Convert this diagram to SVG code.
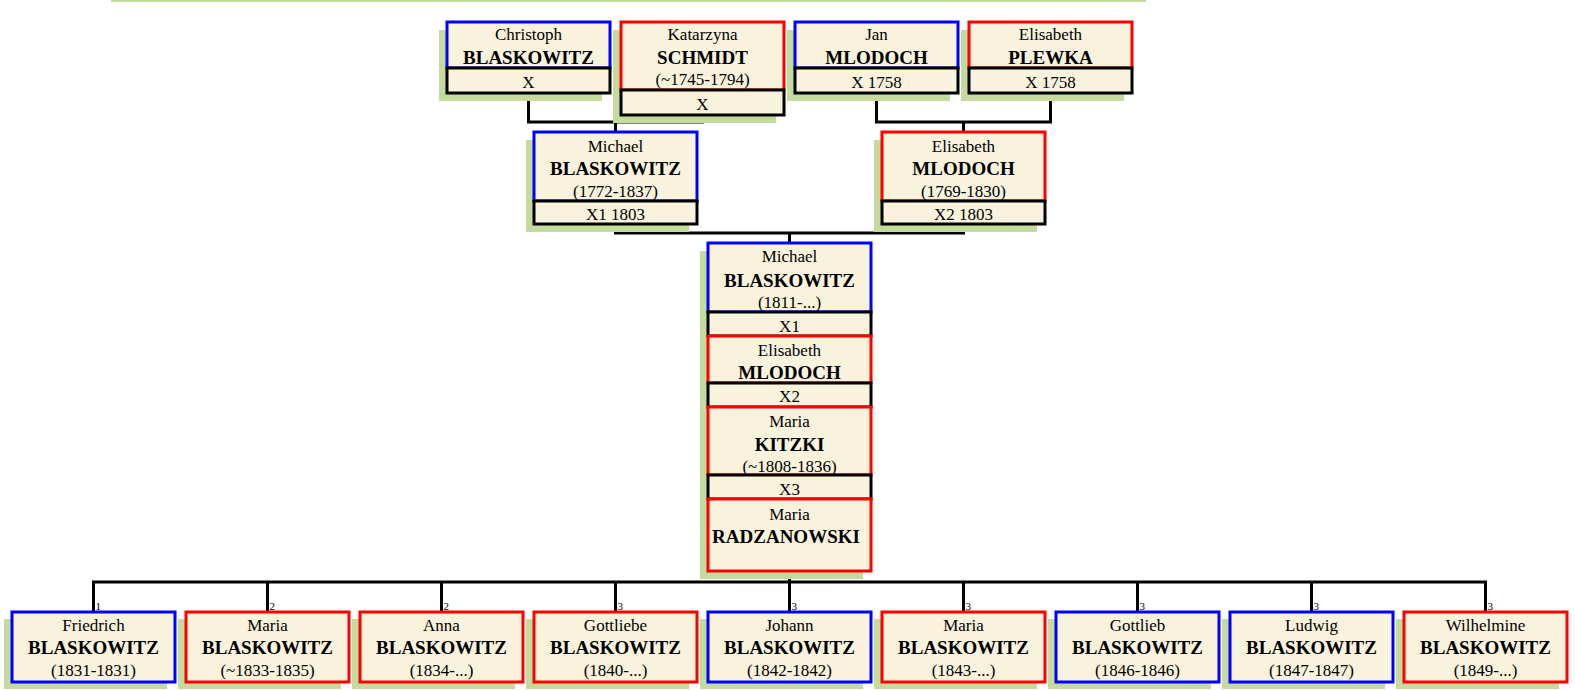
<svg xmlns="http://www.w3.org/2000/svg" width="1575" height="690" viewBox="0 0 1575 690">
<style>
.sh{fill:#c3db9c}
.m{fill:#f9f3dd;stroke:#0000ff;stroke-width:3}
.f{fill:#f9f3dd;stroke:#ff0000;stroke-width:3}
.x{fill:#f9f3dd;stroke:#000;stroke-width:3}
text{font-family:"Liberation Serif","Times New Roman",serif;text-anchor:middle;fill:#000}
.fn{font-size:17px}
.sn{font-size:19px;font-weight:bold}
.lb{font-size:11px;text-anchor:start}
.c{stroke:#000;stroke-width:3;fill:none}
</style>
<rect x="111" y="0" width="1035" height="2" fill="#c3db9c"/>

<g id="connectors">
<path class="c" d="M528.5,93 V122 H702.5 V115 M615.5,122 V132"/>
<path class="c" d="M876.5,93 V122 H1050.5 V93 M963.5,122 V132"/>
<path class="c" d="M615.5,224 V233 H963.5 V224 M789.5,233 V243"/>
<path class="c" d="M789.5,571 V582 M93.5,612 V582 H1485.5 V612 M267.5,582 V612 M441.5,582 V612 M615.5,582 V612 M789.5,582 V612 M963.5,582 V612 M1137.5,582 V612 M1311.5,582 V612"/>
<text class="lb" x="95.5" y="610">1</text>
<text class="lb" x="269.5" y="610">2</text>
<text class="lb" x="443.5" y="610">2</text>
<text class="lb" x="617.5" y="610">3</text>
<text class="lb" x="791.5" y="610">3</text>
<text class="lb" x="965.5" y="610">3</text>
<text class="lb" x="1139.5" y="610">3</text>
<text class="lb" x="1313.5" y="610">3</text>
<text class="lb" x="1487.5" y="610">3</text>
</g>

<g id="christoph-blaskowitz">
<rect class="sh" x="439" y="30" width="163" height="71"/>
<rect class="m" x="447" y="22" width="163" height="46"/>
<rect class="x" x="447" y="68" width="163" height="25"/>
<text class="fn" x="528.5" y="40">Christoph</text>
<text class="sn" x="528.5" y="64">BLASKOWITZ</text>
<text class="fn" x="528.5" y="88">X</text>
</g>
<g id="katarzyna-schmidt">
<rect class="sh" x="613" y="30" width="163" height="93"/>
<rect class="f" x="621" y="22" width="163" height="68"/>
<rect class="x" x="621" y="90" width="163" height="25"/>
<text class="fn" x="702.5" y="40">Katarzyna</text>
<text class="sn" x="702.5" y="64">SCHMIDT</text>
<text class="fn" x="702.5" y="85">(~1745-1794)</text>
<text class="fn" x="702.5" y="110">X</text>
</g>
<g id="jan-mlodoch">
<rect class="sh" x="787" y="30" width="163" height="71"/>
<rect class="m" x="795" y="22" width="163" height="46"/>
<rect class="x" x="795" y="68" width="163" height="25"/>
<text class="fn" x="876.5" y="40">Jan</text>
<text class="sn" x="876.5" y="64">MLODOCH</text>
<text class="fn" x="876.5" y="88">X 1758</text>
</g>
<g id="elisabeth-plewka">
<rect class="sh" x="961" y="30" width="163" height="71"/>
<rect class="f" x="969" y="22" width="163" height="46"/>
<rect class="x" x="969" y="68" width="163" height="25"/>
<text class="fn" x="1050.5" y="40">Elisabeth</text>
<text class="sn" x="1050.5" y="64">PLEWKA</text>
<text class="fn" x="1050.5" y="88">X 1758</text>
</g>

<g id="michael-blaskowitz-1772">
<rect class="sh" x="526" y="140" width="163" height="92"/>
<rect class="m" x="534" y="132" width="163" height="69"/>
<rect class="x" x="534" y="201" width="163" height="23"/>
<text class="fn" x="615.5" y="152">Michael</text>
<text class="sn" x="615.5" y="175">BLASKOWITZ</text>
<text class="fn" x="615.5" y="197">(1772-1837)</text>
<text class="fn" x="615.5" y="220">X1 1803</text>
</g>
<g id="elisabeth-mlodoch-1769">
<rect class="sh" x="874" y="140" width="163" height="92"/>
<rect class="f" x="882" y="132" width="163" height="69"/>
<rect class="x" x="882" y="201" width="163" height="23"/>
<text class="fn" x="963.5" y="152">Elisabeth</text>
<text class="sn" x="963.5" y="175">MLODOCH</text>
<text class="fn" x="963.5" y="197">(1769-1830)</text>
<text class="fn" x="963.5" y="220">X2 1803</text>
</g>

<g id="central-shadow">
<rect class="sh" x="700" y="251" width="163" height="328"/>
</g>
<g id="michael-blaskowitz-1811">
<rect class="m" x="708" y="243" width="163" height="69"/>
<rect class="x" x="708" y="312" width="163" height="24"/>
<text class="fn" x="789.5" y="262">Michael</text>
<text class="sn" x="789.5" y="287">BLASKOWITZ</text>
<text class="fn" x="789.5" y="308">(1811-...)</text>
<text class="fn" x="789.5" y="332">X1</text>
</g>
<g id="elisabeth-mlodoch">
<rect class="f" x="708" y="336" width="163" height="47"/>
<rect class="x" x="708" y="383" width="163" height="24"/>
<text class="fn" x="789.5" y="356">Elisabeth</text>
<text class="sn" x="789.5" y="379">MLODOCH</text>
<text class="fn" x="789.5" y="402">X2</text>
</g>
<g id="maria-kitzki">
<rect class="f" x="708" y="407" width="163" height="68"/>
<rect class="x" x="708" y="475" width="163" height="24"/>
<text class="fn" x="789.5" y="427">Maria</text>
<text class="sn" x="789.5" y="451">KITZKI</text>
<text class="fn" x="789.5" y="472">(~1808-1836)</text>
<text class="fn" x="789.5" y="495">X3</text>
</g>
<g id="maria-radzanowski">
<rect class="f" x="708" y="499" width="163" height="72"/>
<text class="fn" x="789.5" y="520">Maria</text>
<text class="sn" x="786" y="543">RADZANOWSKI</text>
</g>

<g id="friedrich-blaskowitz">
<rect class="sh" x="4" y="619" width="163" height="70"/>
<rect class="m" x="12" y="612" width="163" height="70"/>
<text class="fn" x="93.5" y="631">Friedrich</text>
<text class="sn" x="93.5" y="654">BLASKOWITZ</text>
<text class="fn" x="93.5" y="676">(1831-1831)</text>
</g>
<g id="maria-blaskowitz-1833">
<rect class="sh" x="178" y="619" width="163" height="70"/>
<rect class="f" x="186" y="612" width="163" height="70"/>
<text class="fn" x="267.5" y="631">Maria</text>
<text class="sn" x="267.5" y="654">BLASKOWITZ</text>
<text class="fn" x="267.5" y="676">(~1833-1835)</text>
</g>
<g id="anna-blaskowitz">
<rect class="sh" x="352" y="619" width="163" height="70"/>
<rect class="f" x="360" y="612" width="163" height="70"/>
<text class="fn" x="441.5" y="631">Anna</text>
<text class="sn" x="441.5" y="654">BLASKOWITZ</text>
<text class="fn" x="441.5" y="676">(1834-...)</text>
</g>
<g id="gottliebe-blaskowitz">
<rect class="sh" x="526" y="619" width="163" height="70"/>
<rect class="f" x="534" y="612" width="163" height="70"/>
<text class="fn" x="615.5" y="631">Gottliebe</text>
<text class="sn" x="615.5" y="654">BLASKOWITZ</text>
<text class="fn" x="615.5" y="676">(1840-...)</text>
</g>
<g id="johann-blaskowitz">
<rect class="sh" x="700" y="619" width="163" height="70"/>
<rect class="m" x="708" y="612" width="163" height="70"/>
<text class="fn" x="789.5" y="631">Johann</text>
<text class="sn" x="789.5" y="654">BLASKOWITZ</text>
<text class="fn" x="789.5" y="676">(1842-1842)</text>
</g>
<g id="maria-blaskowitz-1843">
<rect class="sh" x="874" y="619" width="163" height="70"/>
<rect class="f" x="882" y="612" width="163" height="70"/>
<text class="fn" x="963.5" y="631">Maria</text>
<text class="sn" x="963.5" y="654">BLASKOWITZ</text>
<text class="fn" x="963.5" y="676">(1843-...)</text>
</g>
<g id="gottlieb-blaskowitz">
<rect class="sh" x="1048" y="619" width="163" height="70"/>
<rect class="m" x="1056" y="612" width="163" height="70"/>
<text class="fn" x="1137.5" y="631">Gottlieb</text>
<text class="sn" x="1137.5" y="654">BLASKOWITZ</text>
<text class="fn" x="1137.5" y="676">(1846-1846)</text>
</g>
<g id="ludwig-blaskowitz">
<rect class="sh" x="1222" y="619" width="163" height="70"/>
<rect class="m" x="1230" y="612" width="163" height="70"/>
<text class="fn" x="1311.5" y="631">Ludwig</text>
<text class="sn" x="1311.5" y="654">BLASKOWITZ</text>
<text class="fn" x="1311.5" y="676">(1847-1847)</text>
</g>
<g id="wilhelmine-blaskowitz">
<rect class="sh" x="1396" y="619" width="163" height="70"/>
<rect class="f" x="1404" y="612" width="163" height="70"/>
<text class="fn" x="1485.5" y="631">Wilhelmine</text>
<text class="sn" x="1485.5" y="654">BLASKOWITZ</text>
<text class="fn" x="1485.5" y="676">(1849-...)</text>
</g>
</svg>
